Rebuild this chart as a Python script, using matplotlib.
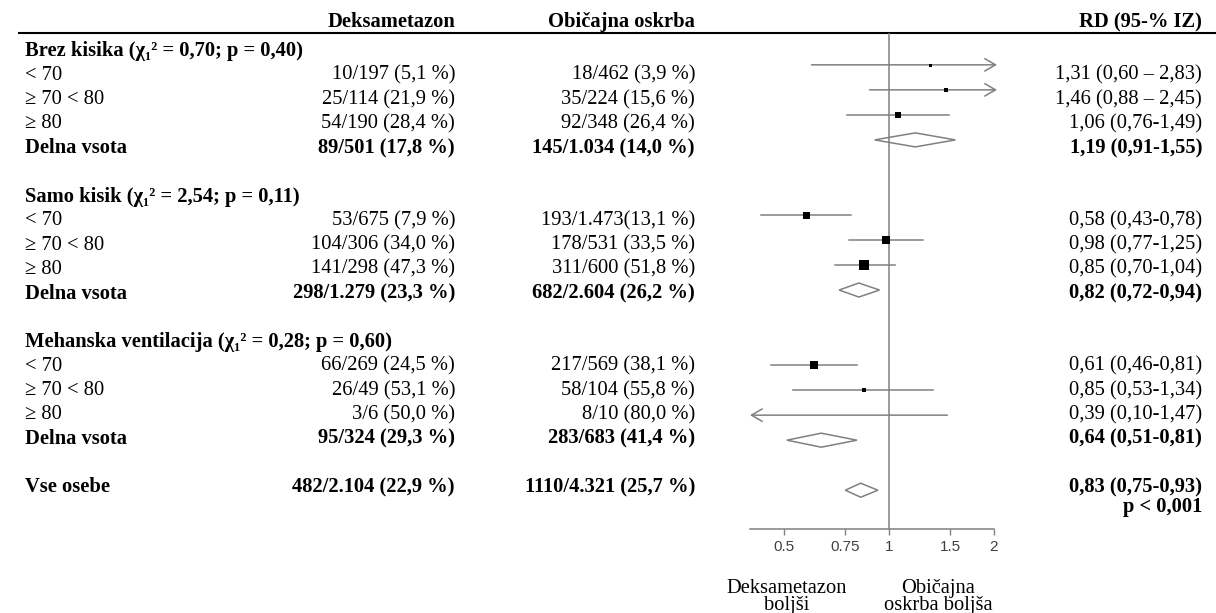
import matplotlib.pyplot as plt
from matplotlib.ticker import NullLocator

# ---------------------------------------------------------------------------- #
#                                     DATA                                     #
# ---------------------------------------------------------------------------- #

groups = ['Brez kisika', 'Samo kisik', 'Mehanska ventilacija']
group_chi = ['0,70', '2,54', '0,28']
group_p = ['0,40', '0,11', '0,60']
ages = ['< 70', '≥ 70 < 80', '≥ 80']

dex_txt = ['10/197 (5,1 %)', '25/114 (21,9 %)', '54/190 (28,4 %)',
           '53/675 (7,9 %)', '104/306 (34,0 %)', '141/298 (47,3 %)',
           '66/269 (24,5 %)', '26/49 (53,1 %)', '3/6 (50,0 %)']
uc_txt = ['18/462 (3,9 %)', '35/224 (15,6 %)', '92/348 (26,4 %)',
          '193/1.473(13,1 %)', '178/531 (33,5 %)', '311/600 (51,8 %)',
          '217/569 (38,1 %)', '58/104 (55,8 %)', '8/10 (80,0 %)']
rd_txt = ['1,31 (0,60 – 2,83)', '1,46 (0,88 – 2,45)', '1,06 (0,76-1,49)',
          '0,58 (0,43-0,78)', '0,98 (0,77-1,25)', '0,85 (0,70-1,04)',
          '0,61 (0,46-0,81)', '0,85 (0,53-1,34)', '0,39 (0,10-1,47)']
rd_est = [1.31, 1.46, 1.06, 0.58, 0.98, 0.85, 0.61, 0.85, 0.39]
rd_lo = [0.60, 0.88, 0.76, 0.43, 0.77, 0.70, 0.46, 0.53, 0.10]
rd_hi = [2.83, 2.45, 1.49, 0.78, 1.25, 1.04, 0.81, 1.34, 1.47]

sub_dex_txt = ['89/501 (17,8 %)', '298/1.279 (23,3 %)', '95/324 (29,3 %)']
sub_uc_txt = ['145/1.034 (14,0 %)', '682/2.604 (26,2 %)', '283/683 (41,4 %)']
sub_rd_txt = ['1,19 (0,91-1,55)', '0,82 (0,72-0,94)', '0,64 (0,51-0,81)']
sub_est = [1.19, 0.82, 0.64]
sub_lo = [0.91, 0.72, 0.51]
sub_hi = [1.55, 0.94, 0.81]

all_dex_txt = '482/2.104 (22,9 %)'
all_uc_txt = '1110/4.321 (25,7 %)'
all_rd_txt = '0,83 (0,75-0,93)'
all_p_txt = 'p < 0,001'
all_est, all_lo, all_hi = 0.83, 0.75, 0.93

ticks = [0.5, 0.75, 1, 1.5, 2]
tick_labels = ['0.5', '0.75', '1', '1.5', '2']

# square size (px) per study row
box_px = [3, 5, 6, 7, 8, 9.5, 8, 5, 5]

# ---------------------------------------------------------------------------- #
#                                    LAYOUT                                    #
# ---------------------------------------------------------------------------- #

W, H = 1216, 613
GREY = '#808080'
FS = 14.8
plt.rcParams['font.family'] = ['Liberation Serif', 'DejaVu Serif']
plt.rcParams['font.size'] = FS

x_lab = 25 / W
x_dex = 455 / W
x_uc = 695 / W
x_rd = 1202 / W

fig = plt.figure(figsize=(W / 100, H / 100), dpi=100)

tab = fig.add_axes([0, 0, 1, 1])
tab.set_xlim(0, 1)
tab.set_ylim(23.18, -2.108)
tab.axis('off')

fp = fig.add_axes([750 / W, 1 - 529 / H, 244 / W, 496 / H])
fp.set_xscale('log')
fp.set_xlim(0.4, 2.0)
fp.set_ylim(19.55, -0.272)
fp.patch.set_alpha(0)

# header
tab.text(x_dex, -1.2, 'Deksametazon', ha='right', va='center', weight='bold')
tab.text(x_uc, -1.2, 'Običajna oskrba', ha='right', va='center', weight='bold')
tab.text(x_rd, -1.2, 'RD (95-% IZ)', ha='right', va='center', weight='bold')
tab.plot([18 / W, 1], [-0.747, -0.747], color='black', lw=1.5,
         solid_capstyle='butt')

# ---------------------------------------------------------------------------- #
#                                     ROWS                                     #
# ---------------------------------------------------------------------------- #

def whisker(lo, hi, r):
    x0, x1 = max(lo, 0.4), min(hi, 2.04)
    arrow = dict(arrowstyle='->,head_length=0.55,head_width=0.32', color=GREY,
                 lw=1.1, shrinkA=0, shrinkB=0, mutation_scale=14)
    if lo < 0.4:
        fp.annotate('', xy=(x0, r), xytext=(x1, r), annotation_clip=False,
                    arrowprops=arrow)
    elif hi > 2.0:
        fp.annotate('', xy=(x1, r), xytext=(x0, r), annotation_clip=False,
                    arrowprops=arrow)
    else:
        fp.plot([x0, x1], [r, r], color=GREY, lw=1.1)


def diamond(est, lo, hi, r):
    h = 0.28
    fp.fill([lo, est, hi, est, lo], [r, r - h, r, r + h, r],
            facecolor='none', edgecolor=GREY, lw=1.1, zorder=3)


r = 0
for g in range(len(groups)):
    tab.text(x_lab, r, f'{groups[g]} (χ₁² = {group_chi[g]}; p = {group_p[g]})',
             ha='left', va='center', weight='bold')
    for k in range(3):
        i = g * 3 + k
        rr = r + 1 + k
        tab.text(x_lab, rr, ages[k], ha='left', va='center')
        tab.text(x_dex, rr, dex_txt[i], ha='right', va='center')
        tab.text(x_uc, rr, uc_txt[i], ha='right', va='center')
        tab.text(x_rd, rr, rd_txt[i], ha='right', va='center')
        whisker(rd_lo[i], rd_hi[i], rr)
        fp.plot(rd_est[i], rr, marker='s', ms=box_px[i] * 0.72, color='black',
                mew=0, zorder=4)
    rr = r + 4
    tab.text(x_lab, rr, 'Delna vsota', ha='left', va='center', weight='bold')
    tab.text(x_dex, rr, sub_dex_txt[g], ha='right', va='center', weight='bold')
    tab.text(x_uc, rr, sub_uc_txt[g], ha='right', va='center', weight='bold')
    tab.text(x_rd, rr, sub_rd_txt[g], ha='right', va='center', weight='bold')
    diamond(sub_est[g], sub_lo[g], sub_hi[g], rr)
    r += 6

tab.text(x_lab, r, 'Vse osebe', ha='left', va='center', weight='bold')
tab.text(x_dex, r, all_dex_txt, ha='right', va='center', weight='bold')
tab.text(x_uc, r, all_uc_txt, ha='right', va='center', weight='bold')
tab.text(x_rd, r, all_rd_txt, ha='right', va='center', weight='bold')
tab.text(x_rd, r + 0.8, all_p_txt, ha='right', va='center', weight='bold')
diamond(all_est, all_lo, all_hi, r)

# ---------------------------------------------------------------------------- #
#                                     AXIS                                     #
# ---------------------------------------------------------------------------- #

fp.axvline(1, color=GREY, lw=1.1, zorder=1)
for s in ['top', 'right', 'left']:
    fp.spines[s].set_visible(False)
fp.spines['bottom'].set_color(GREY)
fp.spines['bottom'].set_linewidth(1.1)
fp.set_yticks([])
fp.set_xticks(ticks)
fp.set_xticklabels(tick_labels, family='Liberation Sans', fontsize=11,
                   color='#404040')
fp.xaxis.set_minor_locator(NullLocator())
fp.tick_params(axis='x', colors=GREY, labelcolor='#404040', length=4,
               width=1, pad=4)

fig.text(787 / W, -2 / H, 'Deksametazon\nboljši', ha='center', va='bottom',
         linespacing=0.85, multialignment='center')
fig.text(938 / W, -2 / H, 'Običajna\noskrba boljša', ha='center', va='bottom',
         linespacing=0.85, multialignment='center')

plt.savefig('out.png', dpi=100)
